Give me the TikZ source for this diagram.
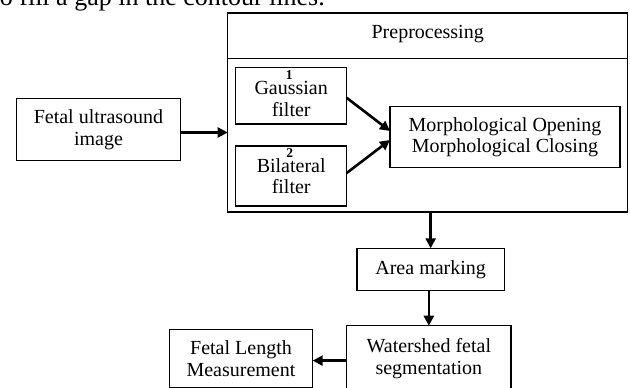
\documentclass[tikz,border=0pt]{standalone}
\usepackage{fontspec}
\setmainfont{Liberation Serif}
\usetikzlibrary{arrows.meta,calc}
\begin{document}
\begin{tikzpicture}[x=1pt,y=-1pt,
  box/.style={draw, line width=1.4pt, rectangle, inner sep=0pt, outer sep=0pt, align=center, font=\fontsize{20}{21.5}\selectfont},
  txt/.style={inner sep=0pt, align=center, font=\fontsize{20}{21.5}\selectfont},
  num/.style={inner sep=0pt, font=\fontsize{13.5}{13.5}\selectfont\bfseries},
  arr/.style={line width=2.6pt, -{Triangle[length=10pt,width=10pt]}}]
\useasboundingbox (0,0) rectangle (630,388);
\clip (0,0) rectangle (630,388);
% cut-off caption line at the top
\node[inner sep=0pt, anchor=base east, font=\fontsize{26}{26}\selectfont] (cap) at (325,5.5) {to fill a gap in the contour lines.};
% input
\node[box, minimum width=163.6pt, minimum height=62.4pt] (fetal) at (98.5,129.5) {Fetal ultrasound\\image};
% preprocessing frame
\node[box, minimum width=400pt, minimum height=45.3pt] (head) at (427.7,35.65) {};
\node[txt, anchor=base] (headtxt) at (427.7,38.3) {Preprocessing};
\node[box, minimum width=400pt, minimum height=153.7pt] (body) at (427.7,135.15) {};
% filters
\node[box, minimum width=111pt, minimum height=56.3pt] (gauss) at (291.2,95.85) {};
\node[txt] (gausstxt) at (291.2,98.9) {Gaussian\\filter};
\node[num] (n1) at (289.3,75.3) {1};
\node[box, minimum width=111pt, minimum height=60pt] (bilat) at (291.2,176) {Bilateral\\filter};
\node[num] (n2) at (289.7,153.1) {2};
\node[box, minimum width=230pt, minimum height=60.6pt] (morph) at (505,137) {Morphological Opening\\Morphological Closing};
% later steps
\node[box, minimum width=147.3pt, minimum height=42pt] (area) at (430.65,269.3) {Area marking};
\node[box, minimum width=164.3pt, minimum height=66.3pt] (water) at (428.85,358.85) {Watershed fetal\\segmentation};
\node[box, minimum width=143.4pt, minimum height=57.8pt] (fetlen) at (241,358.6) {Fetal Length\\Measurement};
% connectors
\draw[arr] ([yshift=-3pt]fetal.east) -- ([yshift=-3pt]fetal.east -| body.west);
\draw[arr] ([yshift=-2pt]gauss.east) -- ([yshift=6pt]morph.west);
\draw[arr] ([yshift=3pt]bilat.east) -- ([yshift=-3pt]morph.west);
\draw[arr] (area.north |- body.south) -- (area.north);
\draw[arr] (area.south -| water.north) -- (water.north);
\draw[arr] ([yshift=-2pt]fetlen.east -| water.west) -- ([yshift=-2pt]fetlen.east);
\end{tikzpicture}
\end{document}
